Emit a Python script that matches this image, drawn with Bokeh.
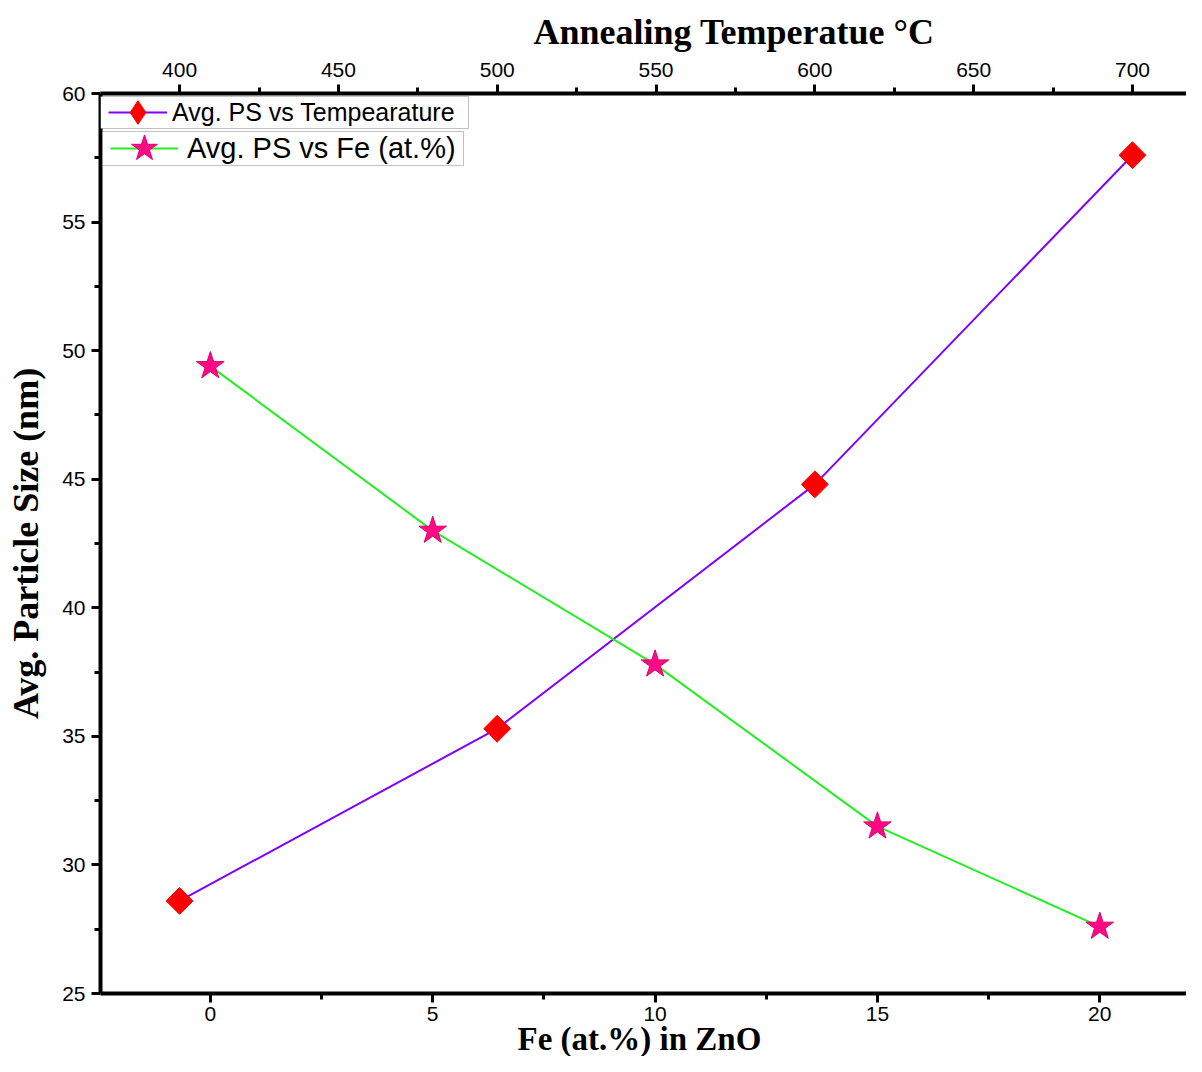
import numpy as np
from bokeh.plotting import figure
from bokeh.models import Range1d, LinearAxis, Legend, LegendItem, FixedTicker, BoxAnnotation, Title
from bokeh.embed import file_html
from bokeh.resources import INLINE

# ---- data ----
temperature_c = [400, 500, 600, 700]
ps_vs_temp = [28.6, 35.3, 44.8, 57.6]
fe_at_pct = [0, 5, 10, 15, 20]
ps_vs_fe = [49.4, 43.0, 37.8, 31.5, 27.6]
y_ticks = [25, 30, 35, 40, 45, 50, 55, 60]
x_ticks = [0, 5, 10, 15, 20]
t_ticks = [400, 450, 500, 550, 600, 650, 700]

W, H = 1186, 1056
FL, FT, FB = 100, 93, 993
p = figure(width=W, height=H, output_backend="svg", toolbar_location=None,
           x_range=Range1d(-2.47, 21.95), y_range=Range1d(25, 60),
           min_border_left=FL, min_border_top=FT, min_border_bottom=H - FB, min_border_right=0)
p.extra_x_ranges = {"temp": Range1d(375.1, 717.0)}
p.grid.visible = False
p.outline_line_color = None
p.background_fill_color = "white"

bottom_axis = p.below[0]
left_axis = p.left[0]
top_axis = LinearAxis(x_range_name="temp")
p.add_layout(top_axis, "above")

for ax in [bottom_axis, left_axis, top_axis]:
    ax.axis_line_width = 4
    ax.axis_line_color = "black"
    ax.major_tick_line_width = 3
    ax.minor_tick_line_width = 3
    ax.major_tick_out = 9
    ax.major_tick_in = 0
    ax.minor_tick_out = 6
    ax.minor_tick_in = 0
    ax.major_label_text_font = "Liberation Sans"
    ax.major_label_text_font_size = "21px"
    ax.major_label_text_color = "black"
    ax.axis_label_text_font = "Liberation Serif"
    ax.axis_label_text_font_style = "bold"
    ax.axis_label_text_font_size = "36px"
    ax.axis_label_text_color = "black"

bottom_axis.ticker = FixedTicker(ticks=x_ticks, minor_ticks=[-2.5, 2.5, 7.5, 12.5, 17.5, 22.5])
left_axis.ticker = FixedTicker(ticks=y_ticks, minor_ticks=[27.5, 32.5, 37.5, 42.5, 47.5, 52.5, 57.5])
top_axis.ticker = FixedTicker(ticks=t_ticks, minor_ticks=[375, 425, 475, 525, 575, 625, 675, 725])

bottom_axis.major_label_standoff = 4
left_axis.axis_label = "Avg. Particle Size (nm)"
left_axis.axis_label_standoff = 13
left_axis.major_label_standoff = 6
top_axis.major_label_standoff = 8

p.title.text = "Annealing Temperatue °C"
p.title.text_font = "Liberation Serif"
p.title.text_font_style = "bold"
p.title.text_font_size = "36px"
p.title.text_color = "black"
p.title.align = "left"
p.title.offset = 433
p.title.standoff = 16

xt = Title(text="Fe (at.%) in ZnO", align="left", offset=417, standoff=-10,
           text_font="Liberation Serif", text_font_style="bold", text_font_size="33px",
           text_color="black")
p.add_layout(xt, "below")

# ---- series ----
l1 = p.line(temperature_c, ps_vs_temp, x_range_name="temp", line_color="#8000ff", line_width=2)
s1 = p.scatter(temperature_c, ps_vs_temp, x_range_name="temp", marker="square", size=19,
               angle=np.pi / 4, fill_color="#ff0000", line_color="#ff0000")
l2 = p.line(fe_at_pct, ps_vs_fe, line_color="#22ee22", line_width=2)
s2 = p.scatter(fe_at_pct, ps_vs_fe, marker="star", size=29,
               fill_color="#ff0a84", line_color="#e0006e", line_width=1)
# legend-only key marker (a single NaN row draws nothing in the plot)
k1 = p.scatter(x=[float("nan")], y=[float("nan")], x_range_name="temp", marker="diamond",
               fill_color="#ff0000", line_color="#ff0000")

# legend frames (screen units: relative to the frame, y measured up from its bottom)
def frame_box(l, r, t, b):
    return BoxAnnotation(left=l - FL, right=r - FL, top=FB - t, bottom=FB - b,
                         left_units="screen", right_units="screen",
                         top_units="screen", bottom_units="screen",
                         fill_color="white", fill_alpha=1, line_color="#333333", line_width=1)

p.add_layout(frame_box(100, 468, 96, 128))
p.add_layout(frame_box(102, 463, 131, 165))

leg1 = Legend(items=[LegendItem(label="Avg. PS vs Tempearature", renderers=[l1, k1])],
              location=(8, FB - 112 - 35), margin=0, padding=0, spacing=0,
              glyph_width=59, glyph_height=70, label_standoff=5,
              label_text_font="Liberation Sans", label_text_font_size="25px",
              label_text_color="black",
              border_line_color=None, background_fill_alpha=0)
leg2 = Legend(items=[LegendItem(label="Avg. PS vs Fe (at.%)", renderers=[l2, s2])],
              location=(10, FB - 148 - 35), margin=0, padding=0, spacing=0,
              glyph_width=68, glyph_height=70, label_standoff=9,
              label_text_font="Liberation Sans", label_text_font_size="29px",
              label_text_color="black",
              border_line_color=None, background_fill_alpha=0)
p.add_layout(leg1, "center")
p.add_layout(leg2, "center")

open("out.html", "w").write(file_html(p, INLINE))
